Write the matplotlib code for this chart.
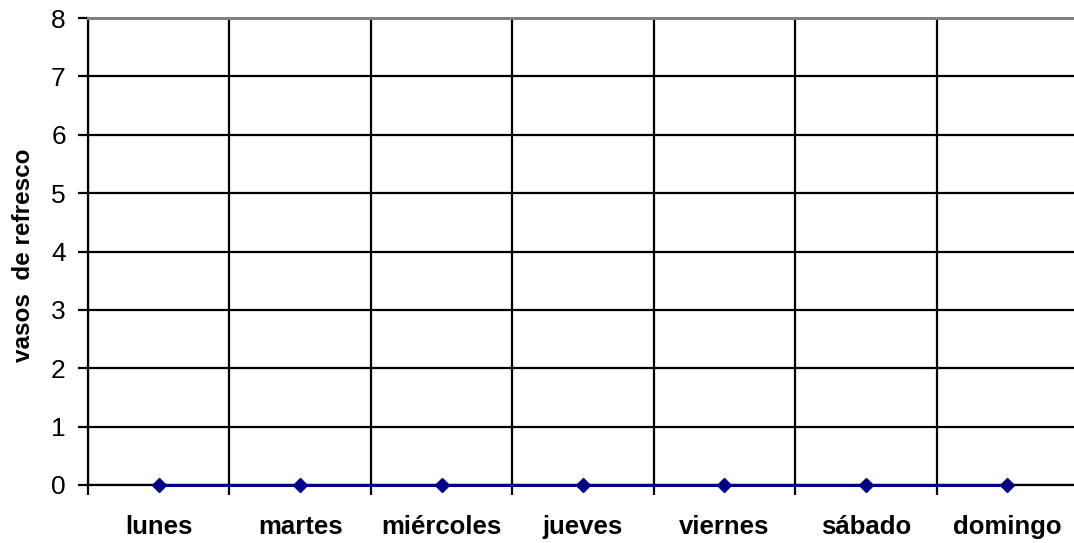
import matplotlib
matplotlib.use("Agg")
import matplotlib.pyplot as plt
import numpy as np

days = ["lunes", "martes", "miércoles", "jueves", "viernes", "sábado", "domingo"]
vasos = [0, 0, 0, 0, 0, 0, 0]
y_ticks = [0, 1, 2, 3, 4, 5, 6, 7, 8]

plt.rcParams['font.family'] = ['Liberation Sans', 'DejaVu Sans']

fig = plt.figure(figsize=(10.74, 5.43), dpi=100)
ax = fig.add_axes([88/1074, 58/543, (1078-88)/1074, (485-18)/543])

x = np.arange(len(days))
ax.set_xlim(-0.5, len(days) - 0.5)
ax.set_ylim(0, 8)

# grid
ax.set_yticks(y_ticks)
ax.set_xticks(x)
ax.set_xticks(np.arange(len(days) + 1) - 0.5, minor=True)
ax.yaxis.grid(True, color='black', linewidth=1.6)
ax.xaxis.grid(True, which='minor', color='black', linewidth=1.6)
ax.xaxis.grid(False, which='major')
ax.set_axisbelow(True)

ax.plot(x, vasos, color='#000080', linewidth=2.2, marker='D', markersize=7,
        zorder=5, clip_on=False)

ax.set_xticklabels(days, fontsize=18.5, fontweight='bold')
ax.tick_params(axis='x', which='major', length=0, pad=21.5)
ax.tick_params(axis='x', which='minor', length=7, width=1.6, color='black')
ax.tick_params(axis='y', length=7, width=1.6, color='black', labelsize=19, pad=9)

ax.spines['right'].set_visible(False)
ax.spines['top'].set_color('#808080')
ax.spines['top'].set_linewidth(2.2)
ax.spines['left'].set_linewidth(1.6)
ax.spines['bottom'].set_linewidth(1.6)

fig.text(24/1074, 1 - 255/543, "vasos  de refresco", rotation=90,
         ha='center', va='center', fontsize=17.5, fontweight='bold')

fig.savefig("out.png", dpi=100)
